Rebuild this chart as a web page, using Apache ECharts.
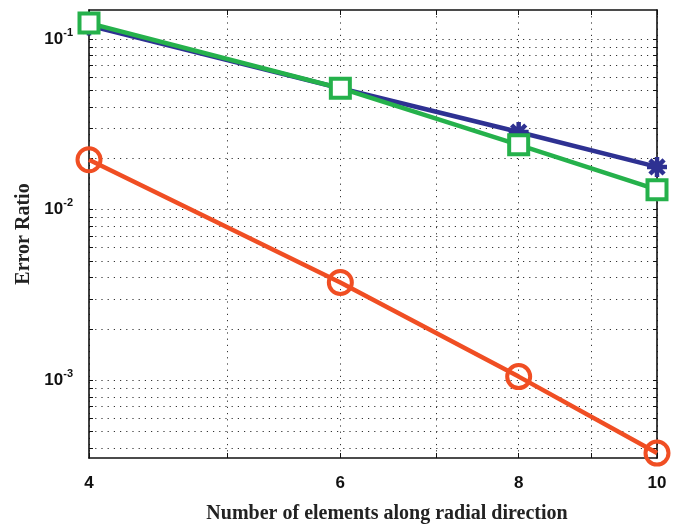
<!DOCTYPE html>
<html><head><meta charset="utf-8">
<script src="https://cdn.jsdelivr.net/npm/echarts@6/dist/echarts.min.js"></script>
<style>html,body{margin:0;padding:0;background:#fff}#c{width:680px;height:524px}</style>
</head><body><div id="c"></div>
<script>
var xValues = [4, 6, 8, 10];
var seriesStar = [0.120, 0.0515, 0.0285, 0.0178];
var seriesSquare = [0.124, 0.0515, 0.0240, 0.0131];
var seriesCircle = [0.0196, 0.00374, 0.00105, 0.000374];
var xTickValues = [4, 5, 6, 7, 8, 9, 10];
var xLabelValues = [4, 6, 8, 10];
var yTickValues = [0.0004,0.0005,0.0006,0.0007,0.0008,0.0009,0.001,0.002,0.003,0.004,0.005,0.006,0.007,0.008,0.009,0.01,0.02,0.03,0.04,0.05,0.06,0.07,0.08,0.09,0.1];
var yLabelValues = [0.001, 0.01, 0.1];
var xTitle = 'Number of elements along radial direction';
var yTitle = 'Error Ratio';

function pairs(ys){ return xValues.map(function(x,i){return [x, ys[i]];}); }
var gridLine = {show:true, lineStyle:{color:'#333', width:1, type:[1.2,5]}};
var axLine = {show:true, onZero:false, lineStyle:{color:'#111', width:1.6}};
function supLabel(v){
  var e = Math.round(Math.log(v)/Math.LN10);
  return '{b|10}{s|' + e + '}';
}
var rich = {b:{fontFamily:'Liberation Sans', fontWeight:'bold', fontSize:17, color:'#111', lineHeight:24},
            s:{fontFamily:'Liberation Sans', fontWeight:'bold', fontSize:11, color:'#111', verticalAlign:'top', lineHeight:13}};
var star = 'path://M0,-10L0,10M-10,0L10,0M-7.07,-7.07L7.07,7.07M-7.07,7.07L7.07,-7.07';
var chart = echarts.init(document.getElementById('c'));
chart.setOption({
  animation:false,
  grid:{left:89, right:23, top:10, bottom:66, show:false, containLabel:false, outerBoundsMode:'none'},
  xAxis:[{type:'log', min:4, max:10, position:'bottom',
    axisLine:axLine,
    axisTick:{show:true, inside:true, length:5, customValues:xTickValues, lineStyle:{color:'#111'}},
    axisLabel:{customValues:xLabelValues, margin:17, fontFamily:'Liberation Sans', fontWeight:'bold', fontSize:17, color:'#111'},
    splitLine:gridLine, minorTick:{show:false},
    name:xTitle, nameLocation:'middle', nameGap:46,
    nameTextStyle:{fontFamily:'Liberation Serif', fontWeight:'bold', fontSize:20, color:'#222', padding:[0,0,0,28]}},
   {type:'log', min:4, max:10, position:'top',
    axisLine:axLine,
    axisTick:{show:true, inside:true, length:5, customValues:xTickValues, lineStyle:{color:'#111'}},
    axisLabel:{show:false}, splitLine:{show:false}}],
  yAxis:[{type:'log', min:0.00035, max:0.148, position:'left',
    axisLine:axLine,
    axisTick:{show:true, inside:true, length:4, customValues:yTickValues, lineStyle:{color:'#111'}},
    axisLabel:{customValues:yLabelValues, margin:16, formatter:supLabel, rich:rich},
    splitLine:gridLine,
    name:yTitle, nameLocation:'middle', nameGap:54, nameRotate:90,
    nameTextStyle:{fontFamily:'Liberation Serif', fontWeight:'bold', fontSize:20, color:'#222'}},
   {type:'log', min:0.00035, max:0.148, position:'right',
    axisLine:axLine,
    axisTick:{show:true, inside:true, length:4, customValues:yTickValues, lineStyle:{color:'#111'}},
    axisLabel:{show:false}, splitLine:{show:false}}],
  series:[
    {type:'line', data:pairs(seriesStar), clip:false, symbol:star, symbolSize:20,
     lineStyle:{color:'#2e3192', width:4.5}, itemStyle:{color:'#2e3192', borderColor:'#2e3192', borderWidth:4.5}},
    {type:'line', data:pairs(seriesSquare), clip:false, symbol:'rect', symbolSize:19,
     lineStyle:{color:'#25b14b', width:4.5}, itemStyle:{color:'#ffffff', borderColor:'#25b14b', borderWidth:4, opacity:1}},
    {type:'line', data:pairs(seriesCircle), clip:false, symbol:'circle', symbolSize:23,
     lineStyle:{color:'#f04e23', width:4.5}, itemStyle:{color:'rgba(0,0,0,0)', borderColor:'#f04e23', borderWidth:4}}
  ]
});
</script></body></html>
